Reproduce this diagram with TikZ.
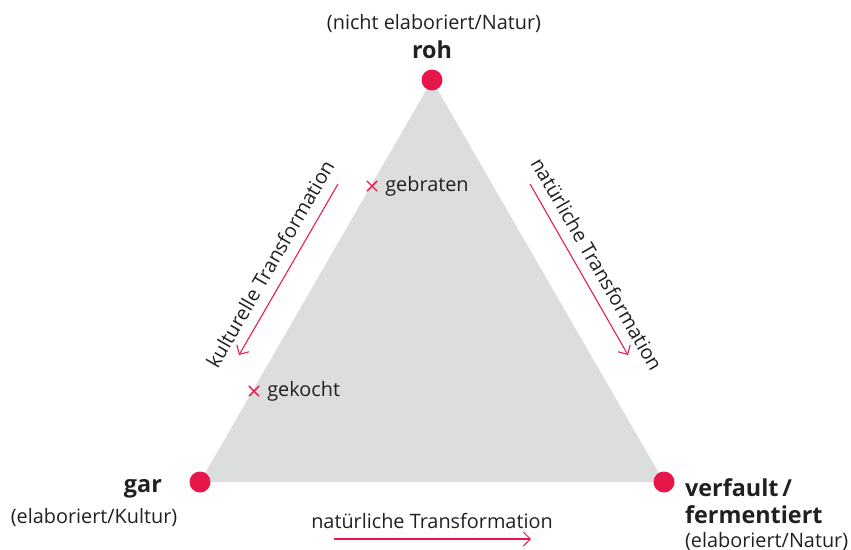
\documentclass[tikz,border=0pt]{standalone}
\usepackage{fontspec}
\setmainfont{Open Sans}
\usetikzlibrary{arrows.meta,shapes.misc}
\definecolor{dotred}{HTML}{E8174A}
\definecolor{areagray}{HTML}{DCDDDF}
\definecolor{inkgray}{HTML}{231F20}

\begin{document}
\begin{tikzpicture}[x=0.02cm,y=-0.02cm,
    pole/.style={circle,fill=dotred,inner sep=0pt,minimum size=0.42cm},
    trans/.style={-{Straight Barb[length=4pt,width=8pt]},dotred,line width=0.6pt},
    txt/.style={inkgray,font=\fontsize{11.3}{13}\selectfont,inner sep=1pt},
    head/.style={inkgray,font=\fontsize{13.3}{15.3}\selectfont\bfseries,inner sep=1pt},
    xmark/.style={cross out,draw=dotred,line width=0.8pt,minimum size=5pt,inner sep=0pt}
  ]
    \useasboundingbox (0,0) rectangle (851,549);
    % triangle
    \coordinate (top) at (432,80);
    \coordinate (left) at (200,482);
    \coordinate (right) at (664,482);
    \fill[areagray] (top) -- (left) -- (right) -- cycle;

    % poles
    \node[pole] (roh) at (top) {};
    \node[pole] (gar) at (left) {};
    \node[pole] (verfault) at (right) {};

    \node[head] (rohname) at (432,50) {roh};
    \node[txt] at (434,24) {(nicht elaboriert/Natur)};
    \node[head,anchor=east] (garname) at (164,489) {gar};
    \node[txt] at (94,518) {(elaboriert/Kultur)};
    \node[head,anchor=west,align=left] (verfaultname) at (683,501) {verfault\,/\\fermentiert};
    \node[txt,anchor=west] at (683,542) {(elaboriert/Natur)};

    % cooking points
    \node[xmark] (gebraten) at (372,186) {};
    \node[txt,anchor=west] at ([xshift=3.5pt]gebraten.east) {gebraten};
    \node[xmark] (gekocht) at (254,391) {};
    \node[txt,anchor=west] at ([xshift=3.5pt]gekocht.east) {gekocht};

    % transformations
    \coordinate (kultA) at (338,184);
    \coordinate (kultB) at (239,355);
    \draw[trans] (kultA) -- (kultB);
    \node[txt,rotate=60] at (270,264) {kulturelle Transformation};

    \coordinate (natA) at (530,184);
    \coordinate (natB) at (628,355);
    \draw[trans] (natA) -- (natB);
    \node[txt,rotate=-60] at (597,264) {natürliche Transformation};

    \coordinate (baseA) at (334,539);
    \coordinate (baseB) at (531,539);
    \draw[trans] (baseA) -- (baseB);
    \node[txt] at (432,521) {natürliche Transformation};
  \end{tikzpicture}
\end{document}
